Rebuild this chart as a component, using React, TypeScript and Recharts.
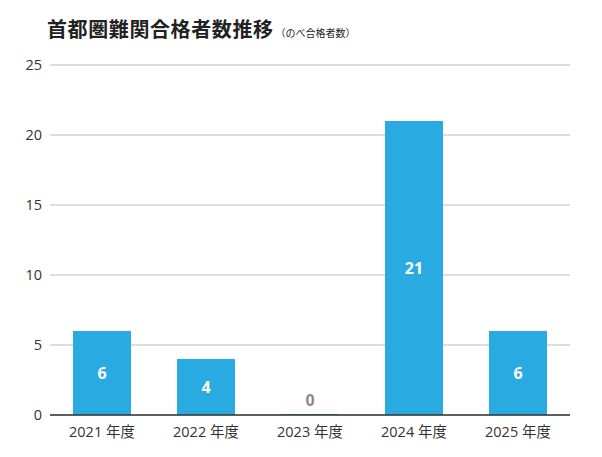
import React from 'react';
import { BarChart, Bar, XAxis, YAxis, CartesianGrid, LabelList } from 'recharts';

const categories = ['2021 年度', '2022 年度', '2023 年度', '2024 年度', '2025 年度'];
const passers = [6, 4, 0, 21, 6];
const yTicks = [0, 5, 10, 15, 20, 25];

const data = categories.map((c, i) => ({ name: c, value: passers[i] }));

const FONT = '"Open Sans", "Noto Sans CJK JP", sans-serif';

const BarLabel = (props: any) => {
  const { x, y, width, height, value } = props;
  const cx = x + width / 2;
  if (value === 0) {
    return (
      <text x={cx} y={y - 14} textAnchor="middle" dominantBaseline="central" fill="#8a8a8a" fontSize={16} fontWeight={700} fontFamily={FONT}>
        {value}
      </text>
    );
  }
  return (
    <text x={cx} y={y + height / 2} textAnchor="middle" dominantBaseline="central" fill="#ffffff" fontSize={16} fontWeight={700} fontFamily={FONT}>
      {value}
    </text>
  );
};

export default function App() {
  return (
    <div style={{ position: 'fixed', left: 0, top: 0, width: 602, height: 457, background: '#fff' }}>
      <div style={{ position: 'absolute', left: 47, top: 14, whiteSpace: 'nowrap', color: '#222', fontFamily: '"Noto Sans CJK JP", sans-serif' }}>
        <span style={{ fontSize: 20, fontWeight: 700, letterSpacing: 0.6 }}>首都圏難関合格者数推移</span>
        <span style={{ fontSize: 10, fontWeight: 400, marginLeft: 2 }}>（のべ合格者数）</span>
      </div>
      <BarChart width={602} height={457} data={data} margin={{ top: 65, right: 32, bottom: 20, left: 0 }}>
        <CartesianGrid vertical={false} stroke="#bbbbbb" />
        <XAxis
          dataKey="name"
          axisLine={{ stroke: '#333333', strokeWidth: 1.5 }}
          tickLine={false}
          tickMargin={6}
          height={22}
          tick={{ fill: '#333', fontSize: 14.5, fontFamily: FONT }}
        />
        <YAxis
          domain={[0, 25]}
          ticks={yTicks}
          axisLine={false}
          tickLine={false}
          width={50}
          tick={{ fill: '#333', fontSize: 14.5, fontFamily: FONT }}
        />
        <Bar dataKey="value" fill="#29abe2" barSize={58} minPointSize={1} isAnimationActive={false}>
          <LabelList dataKey="value" content={BarLabel} />
        </Bar>
      </BarChart>
    </div>
  );
}
